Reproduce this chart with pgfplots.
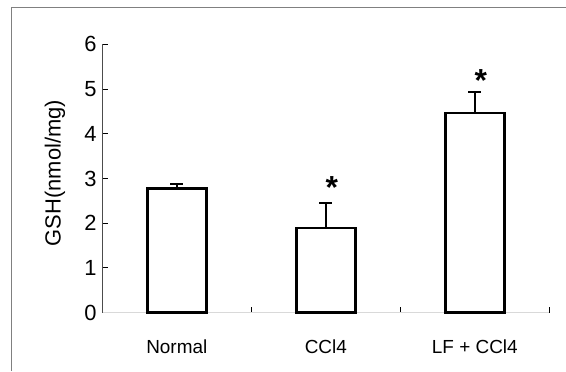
\documentclass[border=0pt]{standalone}
\usepackage{pgfplots}
\pgfplotsset{compat=1.18}
\usepackage{fontspec}
\setmainfont{Liberation Sans}
\begin{document}
\begin{tikzpicture}[x=1bp,y=1bp]
\path[use as bounding box] (0,0) rectangle (566,371);
\draw[black!50, line width=1bp] (11.7,0) -- (11.7,363.7) -- (566,363.7);
\begin{axis}[
  at={(102.3bp,58.3bp)}, anchor=south west, scale only axis,
  width=447bp, height=268.4bp,
  xmin=-0.5, xmax=2.5, ymin=0, ymax=6,
  axis lines*=left,
  x axis line style={black!15, line width=1bp},
  y axis line style={black!70, line width=1bp},
  tick align=inside, major tick length=6bp,
  tick style={black, line width=1bp},
  /pgf/number format/assume math mode=true,
  ytick={0,1,2,3,4,5,6},
  yticklabel style={font=\fontsize{22}{22}\selectfont, xshift=-2.3bp},
  xtick={0.5,1.5,2.5}, xticklabels={},
  extra x ticks={0,1,2},
  extra x tick labels={Normal,CCl4,LF + CCl4},
  extra x tick style={major tick length=0pt,
    xticklabel style={font=\fontsize{19}{19}\selectfont, anchor=base, yshift=-40.7bp}},
  ylabel={GSH(nmol/mg)},
  ylabel style={font=\fontsize{22}{22}\selectfont, at={(axis description cs:-0.106,0.52)}, anchor=center},
  clip=false,
]
\addplot[ybar, bar width=59bp, fill=white, draw=black, line width=2.5bp, bar shift=0pt,
  error bars/.cd, y dir=plus, y explicit,
  error bar style={line width=2bp, black},
  error mark options={rotate=90, mark size=6.6bp, line width=2bp, black}]
  coordinates {(0,2.78) +- (0,0.09) (1,1.89) +- (0,0.57) (2,4.46) +- (0,0.48)};
\addplot[draw=none, mark=none,
  nodes near coords={\textbf{*}},
  every node near coord/.style={anchor=center, font=\fontsize{32}{32}\selectfont, yshift=-7bp, xshift=6bp}]
  coordinates {(1,2.945) (2,5.35)};
\end{axis}
\end{tikzpicture}
\end{document}
